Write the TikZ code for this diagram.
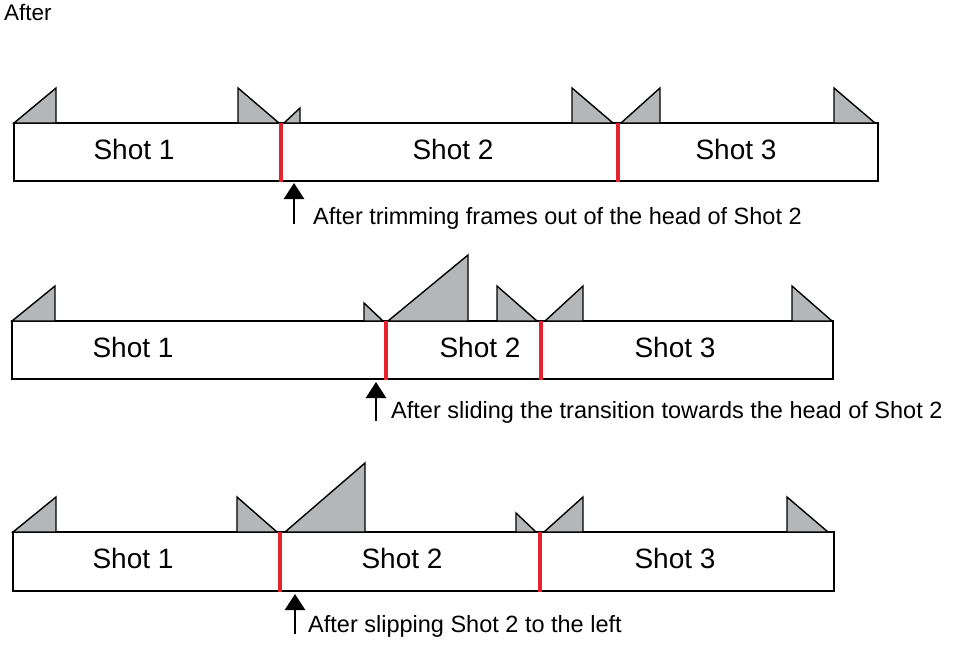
\documentclass[tikz,border=0pt]{standalone}
\usepackage{fontspec}
\setmainfont{Liberation Sans}
\usetikzlibrary{arrows.meta}
\definecolor{handlegray}{RGB}{180,182,184}
\definecolor{cutred}{RGB}{228,36,42}
\tikzstyle{track} = [draw=black, fill=white, line width=1.5pt]
\tikzstyle{handle} = [draw=black, fill=handlegray, line width=1.4pt, line join=miter]
\tikzstyle{cut} = [draw=cutred, line width=4pt]
\tikzstyle{pointer} = [line width=2.6pt, -{Triangle[width=20pt,length=16pt]}]
\tikzstyle{shotlabel} = [font=\fontsize{28}{32}\selectfont, inner sep=0pt]
\tikzstyle{caption} = [font=\fontsize{23.5}{27}\selectfont, inner sep=0pt, anchor=base west]

\begin{document}
\begin{tikzpicture}[x=1pt, y=-1pt]
        \useasboundingbox (0,0) rectangle (960,657);
        \node[font=\fontsize{22.5}{26}\selectfont, inner sep=0pt, anchor=base west] (title) at (4,20) {After};

        % Row 1: trimming
        \draw[track] (14,123) rectangle (878,181);
        \draw[handle] (14,123) -- (56,88) -- (56,123) -- cycle;
        \draw[handle] (238,123) -- (238,88) -- (279,123) -- cycle;
        \draw[handle] (284,123) -- (300,108) -- (300,123) -- cycle;
        \draw[handle] (572,123) -- (572,88) -- (613,123) -- cycle;
        \draw[handle] (621,123) -- (660,88) -- (660,123) -- cycle;
        \draw[handle] (834,123) -- (834,88) -- (875,123) -- cycle;
        \draw[cut] (281,123) -- (281,182);
        \draw[cut] (618,123) -- (618,182);
        \node[shotlabel] (shotAa) at (134,149) {Shot 1};
        \node[shotlabel] (shotAb) at (453,149) {Shot 2};
        \node[shotlabel] (shotAc) at (736,149) {Shot 3};
        \coordinate (tailA) at (294,224);
        \coordinate (tipA) at (294,183);
        \draw[pointer] (tailA) -- (tipA);
        \node[caption] (noteA) at (313,224) {After trimming frames out of the head of Shot 2};

        % Row 2: sliding
        \draw[track] (12,321) rectangle (833,379);
        \draw[handle] (12,321) -- (55,286) -- (55,321) -- cycle;
        \draw[handle] (364,321) -- (364,303) -- (383,321) -- cycle;
        \draw[handle] (388,321) -- (468,255) -- (468,321) -- cycle;
        \draw[handle] (497,321) -- (497,286) -- (537,321) -- cycle;
        \draw[handle] (545,321) -- (583,286) -- (583,321) -- cycle;
        \draw[handle] (792,321) -- (792,286) -- (832,321) -- cycle;
        \draw[cut] (386,321) -- (386,380);
        \draw[cut] (541,321) -- (541,380);
        \node[shotlabel] (shotBa) at (133,347) {Shot 1};
        \node[shotlabel] (shotBb) at (480,347) {Shot 2};
        \node[shotlabel] (shotBc) at (675,347) {Shot 3};
        \coordinate (tailB) at (376,421);
        \coordinate (tipB) at (376,382);
        \draw[pointer] (tailB) -- (tipB);
        \node[caption] (noteB) at (391,418) {After sliding the transition towards the head of Shot 2};

        % Row 3: slipping
        \draw[track] (13,532) rectangle (834,591);
        \draw[handle] (13,532) -- (56,497) -- (56,532) -- cycle;
        \draw[handle] (237,532) -- (237,497) -- (277,532) -- cycle;
        \draw[handle] (285,532) -- (365,463) -- (365,532) -- cycle;
        \draw[handle] (516,532) -- (516,513) -- (536,532) -- cycle;
        \draw[handle] (544,532) -- (583,497) -- (583,532) -- cycle;
        \draw[handle] (787,532) -- (787,497) -- (828,532) -- cycle;
        \draw[cut] (280,532) -- (280,592);
        \draw[cut] (540,532) -- (540,592);
        \node[shotlabel] (shotCa) at (133,558) {Shot 1};
        \node[shotlabel] (shotCb) at (402,558) {Shot 2};
        \node[shotlabel] (shotCc) at (675,558) {Shot 3};
        \coordinate (tailC) at (295,634);
        \coordinate (tipC) at (295,594);
        \draw[pointer] (tailC) -- (tipC);
        \node[caption] (noteC) at (308,632) {After slipping Shot 2 to the left};
\end{tikzpicture}
\end{document}
